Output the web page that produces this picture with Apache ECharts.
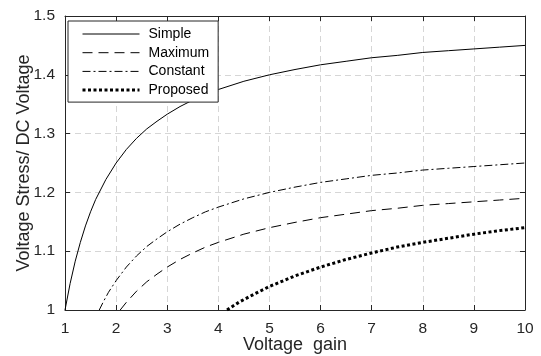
<!DOCTYPE html>
<html>
<head>
<meta charset="utf-8">
<script src="https://cdn.jsdelivr.net/npm/echarts@6/dist/echarts.min.js"></script>
<style>
  html, body { margin: 0; padding: 0; background: #fff; }
  #chart { width: 541px; height: 356px; }
</style>
</head>
<body>
<div id="chart"></div>
<script>
// Voltage stress (normalised to DC voltage) versus voltage gain
const seriesNames = ['Simple', 'Maximum', 'Constant', 'Proposed'];

const gainSimple   = [1, 1.1, 1.2, 1.3, 1.4, 1.5, 1.6, 1.8, 2, 2.2, 2.4, 2.6, 2.8, 3, 3.25, 3.5, 3.75, 4, 4.5, 5, 5.5, 6, 6.5, 7, 7.5, 8, 8.5, 9, 9.5, 10];
const stressSimple = [1.000, 1.045, 1.083, 1.115, 1.143, 1.167, 1.188, 1.222, 1.250, 1.273, 1.292, 1.308, 1.321, 1.333, 1.346, 1.357, 1.367, 1.375, 1.389, 1.400, 1.409, 1.417, 1.423, 1.429, 1.433, 1.438, 1.441, 1.444, 1.447, 1.450];

const gainMaximum   = [2.08, 2.2, 2.4, 2.6, 2.8, 3, 3.25, 3.5, 3.75, 4, 4.5, 5, 5.5, 6, 6.5, 7, 7.5, 8, 8.5, 9, 9.5, 10];
const stressMaximum = [1.000, 1.013, 1.032, 1.048, 1.061, 1.073, 1.086, 1.097, 1.107, 1.115, 1.129, 1.140, 1.149, 1.157, 1.163, 1.169, 1.173, 1.178, 1.181, 1.184, 1.187, 1.190];

const gainConstant   = [1.67, 1.75, 1.85, 2, 2.2, 2.4, 2.6, 2.8, 3, 3.25, 3.5, 3.75, 4, 4.5, 5, 5.5, 6, 6.5, 7, 7.5, 8, 8.5, 9, 9.5, 10];
const stressConstant = [1.000, 1.014, 1.030, 1.050, 1.073, 1.092, 1.108, 1.121, 1.133, 1.146, 1.157, 1.167, 1.175, 1.189, 1.200, 1.209, 1.217, 1.223, 1.229, 1.233, 1.238, 1.241, 1.244, 1.247, 1.250];

const gainProposed   = [4.17, 4.4, 4.7, 5, 5.5, 6, 6.5, 7, 7.5, 8, 8.5, 9, 9.5, 10];
const stressProposed = [1.000, 1.013, 1.027, 1.040, 1.058, 1.073, 1.086, 1.097, 1.107, 1.115, 1.122, 1.129, 1.135, 1.140];

const xTicks = { min: 1, max: 10, interval: 1 };
const yTicks = { min: 1, max: 1.5, interval: 0.1 };

const pairs = (xs, ys) => xs.map((x, i) => [x, ys[i]]);

const font = 'Liberation Sans, Arial, sans-serif';
const gridLine = { show: true, lineStyle: { color: '#d6d6d6', width: 1, type: [6, 4] } };
const axisLine = { show: true, onZero: false, lineStyle: { color: '#262626', width: 1 } };
const tick = { show: true, inside: true, length: 5, lineStyle: { color: '#262626' } };

const chart = echarts.init(document.getElementById('chart'), null, { renderer: 'canvas' });

function curve(name, xs, ys, style) {
  return {
    name: name,
    type: 'line',
    data: pairs(xs, ys),
    symbol: 'none',
    smooth: false,
    lineStyle: Object.assign({ color: '#000', width: 1, join: 'round' }, style),
    itemStyle: { color: '#000' },
    z: 3
  };
}

chart.setOption({
  animation: false,
  backgroundColor: '#fff',
  grid: { left: 65, right: 16, top: 16, bottom: 46, outerBoundsMode: 'none', containLabel: false },
  xAxis: [
    {
      type: 'value', position: 'bottom',
      min: xTicks.min, max: xTicks.max, interval: xTicks.interval,
      name: 'Voltage  gain', nameLocation: 'middle', nameGap: 26, nameMoveOverlap: false,
      nameTextStyle: { fontFamily: font, fontSize: 18, color: '#262626' },
      axisLine: axisLine, axisTick: tick, splitLine: gridLine,
      axisLabel: { margin: 11, fontFamily: font, fontSize: 15.5, color: '#262626' }
    },
    {
      type: 'value', position: 'top',
      min: xTicks.min, max: xTicks.max, interval: xTicks.interval,
      axisLine: axisLine, axisTick: tick, splitLine: { show: false },
      axisLabel: { show: false }
    }
  ],
  yAxis: [
    {
      type: 'value', position: 'left',
      min: yTicks.min, max: yTicks.max, interval: yTicks.interval,
      name: 'Voltage Stress/ DC Voltage', nameLocation: 'middle', nameGap: 32, nameMoveOverlap: false,
      nameTextStyle: { fontFamily: font, fontSize: 18, color: '#262626' },
      axisLine: axisLine, axisTick: tick, splitLine: gridLine,
      axisLabel: {
        margin: 10, fontFamily: font, fontSize: 15.5, color: '#262626',
        formatter: v => String(Math.round(v * 10) / 10)
      }
    },
    {
      type: 'value', position: 'right',
      min: yTicks.min, max: yTicks.max, interval: yTicks.interval,
      axisLine: axisLine, axisTick: tick, splitLine: { show: false },
      axisLabel: { show: false }
    }
  ],
  legend: {
    data: seriesNames,
    orient: 'vertical',
    left: 68, top: 21,
    padding: [6, 9, 5, 13],
    itemWidth: 57, itemHeight: 14, itemGap: 4.7,
    backgroundColor: '#fff',
    borderColor: '#262626', borderWidth: 1, borderRadius: 0,
    itemStyle: { color: 'transparent', borderColor: 'transparent', borderWidth: 0, opacity: 0 },
    lineStyle: { width: 'inherit' },
    textStyle: { fontFamily: font, fontSize: 14, color: '#000', padding: [0, 0, 0, 4] }
  },
  series: [
    curve('Simple', gainSimple, stressSimple, { type: 'solid' }),
    curve('Maximum', gainMaximum, stressMaximum, { type: [10, 6] }),
    curve('Constant', gainConstant, stressConstant, { type: [8, 3, 2, 3] }),
    curve('Proposed', gainProposed, stressProposed, { type: [3, 2.5], width: 3, cap: 'butt' })
  ]
});
</script>
</body>
</html>
